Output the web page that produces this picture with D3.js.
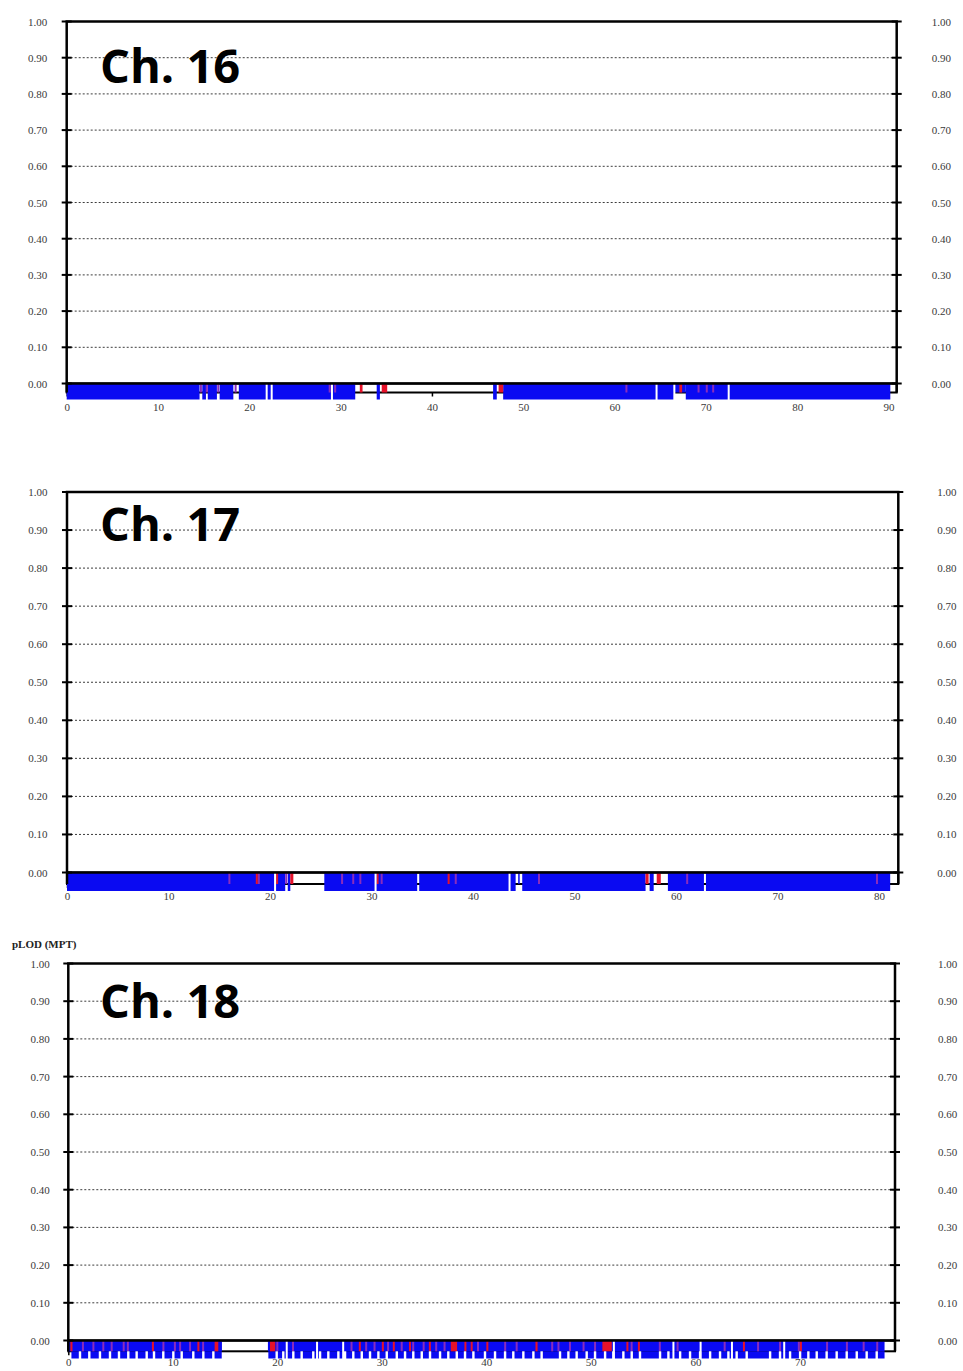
<!DOCTYPE html>
<html>
<head>
<meta charset="utf-8">
<script src="https://cdn.jsdelivr.net/npm/d3@7"></script>
<style>
  html, body { margin: 0; padding: 0; background: #fff; }
  svg { display: block; }
  .tick text { font-family: "Liberation Serif", "Times New Roman", serif; font-size: 11px; fill: #3a3a3a; }
  .title { font-family: "Open Sans", "Noto Sans", sans-serif; font-weight: 700; font-size: 47px; fill: #000; }
  .ylab { font-family: "Liberation Serif", "Times New Roman", serif; font-weight: 700; font-size: 11px; fill: #222; }
</style>
</head>
<body>
<svg id="chart" width="963" height="1371"></svg>
<script>
// ---- values ----
const pLodTicks = [0.00, 0.10, 0.20, 0.30, 0.40, 0.50, 0.60, 0.70, 0.80, 0.90, 1.00];
const chromosomes = ["Ch. 16", "Ch. 17", "Ch. 18"];
const chromLengths = [90.9, 81.9, 79.1];            // cM
const ch16Ticks = [0, 10, 20, 30, 40, 50, 60, 70, 80, 90];
const ch17Ticks = [0, 10, 20, 30, 40, 50, 60, 70, 80];
const ch18Ticks = [0, 10, 20, 30, 40, 50, 60, 70];

// marker runs along the chromosome: [kind, start cM, end cM]
// kind: "full" spans the whole marker strip, "top" the upper band, "low" the lower band
const ch16Runs = [
  ["full", 0, 14.55], ["full", 14.85, 15.25], ["full", 15.45, 16.45], ["full", 16.75, 18.25],
  ["full", 18.85, 31.6], ["full", 33.95, 34.3], ["full", 46.7, 47.1], ["full", 47.8, 66.5],
  ["top", 66.5, 67.8], ["full", 67.8, 90.2]
];
const ch16Red = [[32.1, 32.4], [34.5, 35.1], [47.3, 47.8], [67.1, 67.4]];
const ch16Mixed = [14.7, 15.35, 16.6, 18.5, 28.8, 29.4, 61.3, 69.2, 70.1, 70.8];
const ch16Gaps = [21.9, 22.45, 29.05, 64.6, 66.55, 72.5];
const ch16LowGaps = [];

const ch17Runs = [
  ["full", 0, 21.5], ["full", 21.75, 22.0], ["full", 25.35, 34.5], ["full", 34.7, 44.2],
  ["top", 44.45, 44.6], ["full", 44.85, 57.0], ["full", 57.4, 57.8], ["full", 59.2, 62.75],
  ["full", 62.95, 81.1]
];
const ch17Red = [[18.6, 18.8], [20.6, 20.75], [22.0, 22.3], [30.5, 30.65], [37.5, 37.7],
                 [57.0, 57.3], [58.1, 58.5]];
const ch17Mixed = [16.0, 18.9, 21.6, 27.1, 28.2, 28.9, 31.0, 38.3, 46.5, 61.1, 79.8];
const ch17Gaps = [20.5, 30.4, 43.6];
const ch17LowGaps = [];

const ch18Runs = [
  ["top", 0, 14.7], ["top", 19.1, 78.1],
  ["low", 0.3, 14.68], ["low", 19.14, 78.1]
];
const ch18Red = [[0.2, 0.4], [8.0, 8.1], [12.35, 12.5], [14.0, 14.35], [19.3, 19.8], [27.8, 27.9],
                 [30.0, 30.1], [31.05, 31.2], [32.6, 32.7], [34.5, 34.6], [36.6, 37.2], [37.9, 38.0],
                 [38.5, 38.6], [40.0, 40.1], [44.7, 44.9], [51.1, 52.0], [53.4, 53.5], [54.5, 54.6],
                 [64.55, 64.7], [70.0, 70.1]];
const ch18Mixed = [1.4, 2.4, 3.35, 4.15, 5.3, 5.7, 9.1, 10.2, 10.7, 11.65, 12.9, 20.0, 21.5, 27.1,
                   28.5, 29.3, 30.6, 31.9, 33.0, 34.0, 35.2, 36.0, 39.2, 41.8, 42.9, 46.3, 46.9,
                   48.0, 49.3, 50.4, 53.9, 56.6, 58.3, 62.8, 66.0, 68.1, 69.9, 72.6, 74.5, 76.1, 77.4];
const ch18Gaps = [20.9, 23.8, 26.3, 52.2, 57.9, 60.5, 63.5, 68.5];
const ch18LowGaps = [1.12, 2.01, 3.03, 3.99, 4.85, 5.74, 6.54, 7.50, 8.20, 9.09, 10.05, 10.85, 11.96,
                     12.92, 13.88, 19.94, 20.57, 21.53, 22.33, 23.44, 24.09, 24.88, 25.84, 26.48,
                     27.27, 28.08, 28.87, 29.67, 30.47, 31.43, 32.22, 33.01, 33.82, 34.61, 35.57,
                     36.36, 37.17, 37.96, 38.76, 39.87, 40.83, 41.79, 42.58, 43.54, 44.50, 45.29,
                     47.05, 47.85, 48.64, 49.60, 50.40, 51.36, 52.15, 53.11, 53.91, 54.70, 56.62,
                     57.42, 58.54, 59.49, 60.45, 61.41, 62.36, 63.16, 63.95, 64.91, 67.15, 68.10,
                     69.06, 70.02, 70.81, 71.61, 72.56, 73.52, 74.48, 75.44, 76.39, 77.35];

const datasets = [
  { name: chromosomes[0], length: chromLengths[0], ticks: ch16Ticks, runs: ch16Runs, red: ch16Red, mixed: ch16Mixed, gaps: ch16Gaps, lowGaps: ch16LowGaps },
  { name: chromosomes[1], length: chromLengths[1], ticks: ch17Ticks, runs: ch17Runs, red: ch17Red, mixed: ch17Mixed, gaps: ch17Gaps, lowGaps: ch17LowGaps },
  { name: chromosomes[2], length: chromLengths[2], ticks: ch18Ticks, runs: ch18Runs, red: ch18Red, mixed: ch18Mixed, gaps: ch18Gaps, lowGaps: ch18LowGaps }
];

// ---- panel geometry ----
const panels = [
  { left: 66.7, right: 896.7, top: 21.5,  zero: 383.5,  mid: 392.5,  bottom: 399.5,  xLab: 10.5, lPad: 19.5, rPad: 35,   titleY: 83 },
  { left: 67.0, right: 898.3, top: 492,   zero: 872.5,  mid: 884,    bottom: 891,    xLab: 7.8,  lPad: 19.5, rPad: 39,   titleY: 541 },
  { left: 68.3, right: 895.0, top: 963.5, zero: 1340.5, mid: 1351.3, bottom: 1358.5, xLab: 7.3,  lPad: 18.5, rPad: 43,   titleY: 1018 }
];

const COLORS = { blue: "#0a0af2", red: "#e6122a", mixed: "#8a2cbc" };

const svg = d3.select("#chart");

datasets.forEach((chrom, i) => drawPanel(chrom, panels[i]));

svg.append("text").attr("class", "ylab").attr("x", 12).attr("y", 948).text("pLOD (MPT)");

function drawPanel(chrom, L) {
  const g = svg.append("g");
  const x = d3.scaleLinear().domain([0, chrom.length]).range([L.left, L.right]);
  const y = d3.scaleLinear().domain([0, 1]).range([L.zero, L.top]);
  const fmt = d3.format(".2f");

  // dotted reference lines
  g.append("g").selectAll("line")
    .data(pLodTicks.filter(v => v > 0 && v < 1))
    .join("line")
      .attr("x1", L.left).attr("x2", L.right)
      .attr("y1", d => y(d)).attr("y2", d => y(d))
      .attr("stroke", "#3c3c3c").attr("stroke-width", 1).attr("stroke-dasharray", "2,2");

  // value labels on both sides
  g.append("g").attr("transform", `translate(${L.left},0)`)
    .call(d3.axisLeft(y).tickValues(pLodTicks).tickFormat(fmt).tickSize(0).tickPadding(L.lPad))
    .call(a => a.select(".domain").remove());
  g.append("g").attr("transform", `translate(${L.right},0)`)
    .call(d3.axisRight(y).tickValues(pLodTicks).tickFormat(fmt).tickSize(0).tickPadding(L.rPad))
    .call(a => a.select(".domain").remove())
    .selectAll("text").attr("text-anchor", "start");

  // cM axis under the chromosome
  g.append("g").attr("transform", `translate(0,${L.mid})`)
    .call(d3.axisBottom(x).tickValues(chrom.ticks).tickFormat(d3.format("d"))
      .tickSizeInner(4).tickSizeOuter(0).tickPadding(L.xLab - 4))
    .call(a => a.select(".domain").remove())
    .call(a => a.selectAll(".tick line").attr("stroke", "#000").attr("stroke-width", 1.5));

  // chromosome body
  g.append("rect")
    .attr("x", x(0)).attr("y", L.zero)
    .attr("width", x(chrom.length) - x(0)).attr("height", L.mid - L.zero)
    .attr("fill", "#fff").attr("stroke", "#000").attr("stroke-width", 2);

  const bandY = {
    full: [L.zero, L.bottom],
    top:  [L.zero, L.mid],
    low:  [L.mid, L.bottom]
  };

  // marker runs
  g.append("g").selectAll("rect")
    .data(chrom.runs)
    .join("rect")
      .attr("x", d => x(d[1]))
      .attr("width", d => Math.max(x(d[2]) - x(d[1]), 1.5))
      .attr("y", d => bandY[d[0]][0])
      .attr("height", d => bandY[d[0]][1] - bandY[d[0]][0])
      .attr("fill", COLORS.blue);

  // mixed-colour marker lines
  g.append("g").selectAll("rect")
    .data(chrom.mixed)
    .join("rect")
      .attr("x", d => x(d) - 1).attr("width", 2)
      .attr("y", L.zero).attr("height", L.mid - L.zero)
      .attr("fill", COLORS.mixed);

  // red markers
  g.append("g").selectAll("rect")
    .data(chrom.red)
    .join("rect")
      .attr("x", d => x(d[0]))
      .attr("width", d => Math.max(x(d[1]) - x(d[0]), 2))
      .attr("y", L.zero).attr("height", L.mid - L.zero)
      .attr("fill", COLORS.red);

  // narrow breaks between marker runs
  g.append("g").selectAll("rect")
    .data(chrom.gaps)
    .join("rect")
      .attr("x", d => x(d) - 1).attr("width", 2)
      .attr("y", L.zero).attr("height", L.bottom - L.zero + 0.5)
      .attr("fill", "#fff");
  g.append("g").selectAll("rect")
    .data(chrom.lowGaps)
    .join("rect")
      .attr("x", d => x(d) - 1.2).attr("width", 2.4)
      .attr("y", L.mid).attr("height", L.bottom - L.mid + 0.5)
      .attr("fill", "#fff");

  // frame
  g.append("path")
    .attr("d", `M${L.left},${L.mid}V${L.top}H${L.right}V${L.mid}`)
    .attr("fill", "none").attr("stroke", "#000").attr("stroke-width", 2.5);
  g.append("line")
    .attr("x1", L.left).attr("x2", L.right).attr("y1", L.zero).attr("y2", L.zero)
    .attr("stroke", "#000").attr("stroke-width", 2.5);

  // tick marks crossing both vertical borders
  [L.left, L.right].forEach(xx => {
    g.append("g").selectAll("line")
      .data(pLodTicks)
      .join("line")
        .attr("x1", xx - 5).attr("x2", xx + 5)
        .attr("y1", d => y(d)).attr("y2", d => y(d))
        .attr("stroke", "#000").attr("stroke-width", 2);
  });

  g.append("text").attr("class", "title")
    .attr("x", 100).attr("y", L.titleY).text(chrom.name);
}
</script>
</body>
</html>
